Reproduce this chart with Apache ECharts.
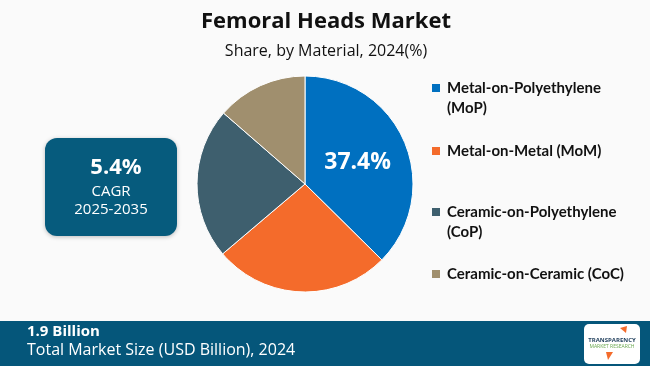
<!DOCTYPE html>
<html><head><meta charset="utf-8">
<script src="https://cdn.jsdelivr.net/npm/echarts@6/dist/echarts.min.js"></script>
<style>html,body{margin:0;padding:0;background:#fafafa}#c{width:650px;height:366px}</style>
</head><body><div id="c"></div>
<script>
const categories = ['Metal-on-Polyethylene (MoP)', 'Metal-on-Metal (MoM)', 'Ceramic-on-Polyethylene (CoP)', 'Ceramic-on-Ceramic (CoC)'];
const legendLines = [['Metal-on-Polyethylene', '(MoP)'], ['Metal-on-Metal (MoM)'], ['Ceramic-on-Polyethylene', '(CoP)'], ['Ceramic-on-Ceramic (CoC)']];
const shares = [37.4, 26.4, 22.6, 13.6];
const colors = ['#0070C0', '#F46B2B', '#3E5F6E', '#A08F6E'];
const cagrValue = '5.4%';
const cagrLabel = 'CAGR';
const cagrPeriod = '2025-2035';
const marketSize = '1.9 Billion';
const marketSizeLabel = 'Total Market Size (USD Billion), 2024';

const chart = echarts.init(document.getElementById('c'));
const legendTops = [88, 151, 212, 274];
const graphics = [];
categories.forEach((c, i) => {
  graphics.push({type:'rect', left:432, top:legendTops[i]-4, shape:{width:8,height:8}, style:{fill:colors[i]}});
  graphics.push({type:'text', left:447, top:legendTops[i]-10, style:{text:legendLines[i].join('\n'), fill:'#111', font:'bold 15px Lato', lineHeight:20}});
});
// CAGR box
graphics.push({type:'rect', left:45, top:138, shape:{width:132,height:98,r:12}, style:{fill:'#065B7D', shadowBlur:4, shadowColor:'rgba(0,0,0,0.25)', shadowOffsetY:1}});
graphics.push({type:'text', x:116, y:168, style:{text:cagrValue, fill:'#fff', font:'bold 22px "Open Sans"', align:'center', verticalAlign:'middle'}});
graphics.push({type:'text', x:111, y:192, style:{text:cagrLabel, fill:'#fff', font:'15px "Open Sans"', align:'center', verticalAlign:'middle'}});
graphics.push({type:'text', x:111, y:210, style:{text:cagrPeriod, fill:'#fff', font:'15px "Open Sans"', align:'center', verticalAlign:'middle'}});
// bottom band
graphics.push({type:'rect', left:0, top:321, shape:{width:650,height:45}, style:{fill:'#05567A'}});
graphics.push({type:'text', left:27, top:324, style:{text:marketSize, fill:'#fff', font:'bold 15px "Open Sans"'}});
graphics.push({type:'text', left:27, top:342, style:{text:marketSizeLabel, fill:'#fff', font:'16px "Open Sans"'}});
// logo
graphics.push({type:'rect', left:584, top:324, shape:{width:56,height:40,r:5}, style:{fill:'#fff'}});
graphics.push({type:'polygon', shape:{points:[[620,328],[627,326],[626,333]]}, style:{fill:'#F46B2B'}});
graphics.push({type:'polygon', shape:{points:[[606,352],[613,352],[608,360]]}, style:{fill:'#F46B2B'}});
graphics.push({type:'text', x:612, y:340, style:{text:'TRANSPARENCY', fill:'#1d3c5a', font:'bold 6px "Open Sans"', align:'center', verticalAlign:'middle'}});
graphics.push({type:'text', x:612, y:347, style:{text:'MARKET RESEARCH', fill:'#6aa84f', font:'5px "Open Sans"', align:'center', verticalAlign:'middle'}});

chart.setOption({
  backgroundColor:'#fafafa',
  animation:false,
  title:[
    {text:'Femoral Heads Market', left:321, top:6, textAlign:'center', textStyle:{fontFamily:'Open Sans', fontWeight:'bold', fontSize:22, color:'#111'}},
    {text:'Share, by Material, 2024(%)', left:321, top:38, textAlign:'center', textStyle:{fontFamily:'Open Sans', fontWeight:'normal', fontSize:16, color:'#111'}}
  ],
  graphic: graphics,
  series:[{
    type:'pie',
    center:[305,184],
    radius:[0,108],
    startAngle:90,
    clockwise:true,
    itemStyle:{borderColor:'#fff', borderWidth:1},
    label:{show:false},
    labelLine:{show:false},
    data: categories.map((c,i)=>({name:c, value:shares[i], itemStyle:{color:colors[i]},
      label: i===0 ? {show:true, position:'inside', formatter:'{c}%', color:'#fff', fontSize:23, fontWeight:'bold', fontFamily:'Open Sans'} : {show:false}}))
  }]
});
</script></body></html>
